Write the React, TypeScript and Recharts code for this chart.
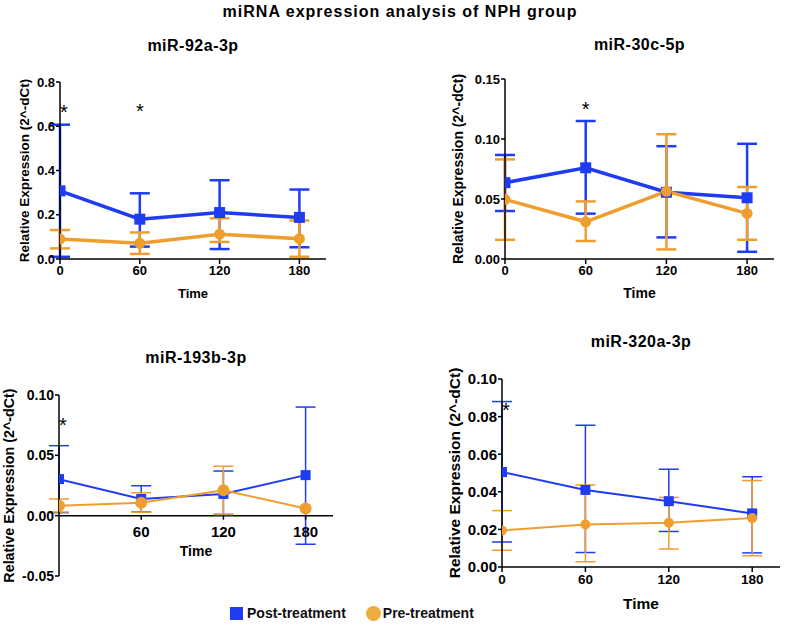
import React from 'react';
import { LineChart, Line, XAxis, YAxis, ErrorBar, ReferenceLine, ReferenceDot } from 'recharts';

const BLUE = '#1f3cf2';
const ORANGE = '#ee9e2f';
const FONT = '"Liberation Sans", Arial, Helvetica, sans-serif';
const AXIS_LABEL = 'Relative Expression (2^-dCt)';
const STAR_SIZE = 20;

const times = [0, 60, 120, 180];

// miR-92a-3p
const mir92Post = [0.308, 0.18, 0.21, 0.188];
const mir92PostLow = [0.01, 0.056, 0.045, 0.053];
const mir92PostHigh = [0.607, 0.297, 0.356, 0.314];
const mir92Pre = [0.09, 0.071, 0.112, 0.092];
const mir92PreLow = [0.048, 0.023, 0.077, 0.01];
const mir92PreHigh = [0.131, 0.12, 0.184, 0.174];
const mir92Stars = [{ time: 0, y: 0.685 }, { time: 60, y: 0.69 }];

// miR-30c-5p
const mir30Post = [0.0636, 0.076, 0.0556, 0.051];
const mir30PostLow = [0.04, 0.0378, 0.018, 0.006];
const mir30PostHigh = [0.0867, 0.115, 0.094, 0.096];
const mir30Pre = [0.0497, 0.031, 0.0564, 0.038];
const mir30PreLow = [0.016, 0.015, 0.008, 0.016];
const mir30PreHigh = [0.083, 0.048, 0.104, 0.06];
const mir30Stars = [{ time: 60, y: 0.129 }];

// miR-193b-3p
const mir193Post = [0.0303, 0.0138, 0.018, 0.0336];
const mir193PostLow = [0.0025, 0.003, 0.0005, -0.0237];
const mir193PostHigh = [0.058, 0.0248, 0.037, 0.09];
const mir193Pre = [0.0083, 0.0107, 0.021, 0.006];
const mir193PreLow = [0.003, 0.0028, 0.0014, null];
const mir193PreHigh = [0.0138, 0.019, 0.041, null];
const mir193Stars = [{ time: 0, y: 0.079 }];

// miR-320a-3p
const mir320Post = [0.0505, 0.041, 0.035, 0.0285];
const mir320PostLow = [0.0133, 0.0077, 0.0189, 0.0075];
const mir320PostHigh = [0.088, 0.0754, 0.052, 0.048];
const mir320Pre = [0.0194, 0.0226, 0.0235, 0.026];
const mir320PreLow = [0.0089, 0.0028, 0.0096, 0.006];
const mir320PreHigh = [0.03, 0.0436, 0.037, 0.046];
const mir320Stars = [{ time: 0, y: 0.086 }];

const buildRows = (
  post: number[], postLow: number[], postHigh: number[],
  pre: number[], preLow: (number | null)[], preHigh: (number | null)[]
) =>
  times.map((t, i) => ({
    time: t,
    post: post[i],
    postErr: [post[i] - postLow[i], postHigh[i] - post[i]],
    pre: pre[i],
    preErr: preLow[i] == null ? null : [pre[i] - (preLow[i] as number), (preHigh[i] as number) - pre[i]],
  }));

type Margin = { top: number; right: number; bottom: number; left: number };

interface PanelProps {
  title: string;
  rows: ReturnType<typeof buildRows>;
  stars: { time: number; y: number }[];
  yDomain: [number, number];
  yTicks: number[];
  digits: number;
  xTicks: number[];
  left: number;
  top: number;
  width: number;
  height: number;
  margin: Margin;
  yAxisWidth: number;
  xAxisHeight: number;
  titleY: number;
  yLabelOffset: number;
  yLabelSize: number;
  timeSize: number;
  timeOffset: number;
  yTickSize: number;
  xTickSize: number;
  lineWidth: number;
  errWidth: number;
  square: number;
  radius: number;
  zeroAxis?: boolean;
}

function Panel(p: PanelProps) {
  const plotLeft = p.margin.left + p.yAxisWidth;
  const plotRight = p.width - p.margin.right;
  const plotH = p.height - p.margin.top - p.margin.bottom - p.xAxisHeight;
  const [yMin, yMax] = p.yDomain;
  // pixel row of y = 0 inside the chart svg (for the panel whose x axis sits on zero)
  const zeroY = p.margin.top + (plotH * yMax) / (yMax - yMin);
  const text = { fill: '#000', fontWeight: 700, fontFamily: FONT };

  const squareDot = (d: any) => (
    <rect
      key={`sq-${d.index}`}
      x={d.cx - p.square / 2}
      y={d.cy - p.square / 2}
      width={p.square}
      height={p.square}
      fill={BLUE}
    />
  );

  const zeroTick = (t: any) => (
    <g key={`zt-${t.index}`}>
      <line x1={t.x} x2={t.x} y1={zeroY} y2={zeroY + 4} stroke="#000" strokeWidth={1.5} />
      <text x={t.x} y={zeroY + 16 + p.xTickSize * 0.36} textAnchor="middle" fontSize={p.xTickSize} {...text}>
        {t.payload.value}
      </text>
    </g>
  );

  return (
    <div style={{ position: 'absolute', left: p.left, top: p.top, width: p.width, height: p.height }}>
      <div
        style={{
          position: 'absolute',
          left: plotLeft - 40,
          width: plotRight - plotLeft + 80,
          top: p.titleY - 10,
          textAlign: 'center',
          fontFamily: FONT,
          fontWeight: 700,
          fontSize: 16,
          lineHeight: '20px',
          letterSpacing: 0.5,
        }}
      >
        {p.title}
      </div>
      <LineChart width={p.width} height={p.height} data={p.rows} margin={p.margin}>
        <XAxis
          type="number"
          dataKey="time"
          domain={[0, 200]}
          ticks={p.xTicks}
          interval={0}
          allowDataOverflow
          height={p.xAxisHeight}
          axisLine={p.zeroAxis ? false : { stroke: '#000', strokeWidth: 1.5 }}
          tickLine={p.zeroAxis ? false : { stroke: '#000', strokeWidth: 1.5 }}
          tickSize={5}
          tickMargin={2}
          tick={p.zeroAxis ? zeroTick : { ...text, fontSize: p.xTickSize }}
          label={
            p.zeroAxis
              ? undefined
              : { value: 'Time', position: 'insideBottom', offset: p.timeOffset, fontSize: p.timeSize, ...text }
          }
        />
        <YAxis
          type="number"
          domain={p.yDomain}
          ticks={p.yTicks}
          interval={0}
          allowDataOverflow
          width={p.yAxisWidth}
          tickFormatter={(v: number) => v.toFixed(p.digits)}
          axisLine={{ stroke: '#000', strokeWidth: 1.5 }}
          tickLine={{ stroke: '#000', strokeWidth: 1.5 }}
          tickSize={4}
          tickMargin={1}
          tick={{ ...text, fontSize: p.yTickSize }}
          label={{
            value: AXIS_LABEL,
            angle: -90,
            position: 'insideLeft',
            offset: p.yLabelOffset,
            fontSize: p.yLabelSize,
            ...text,
            style: { textAnchor: 'middle' },
          }}
        />
        {p.zeroAxis && (
          <ReferenceLine
            y={0}
            stroke="#000"
            strokeWidth={1.5}
            label={{ value: 'Time', position: 'bottom', offset: 30, fontSize: p.timeSize, ...text }}
          />
        )}
        <Line
          type="linear"
          dataKey="post"
          stroke={BLUE}
          strokeWidth={p.lineWidth}
          dot={squareDot}
          activeDot={false}
          isAnimationActive={false}
        >
          <ErrorBar dataKey="postErr" direction="y" width={10} stroke={BLUE} strokeWidth={p.errWidth} />
        </Line>
        <Line
          type="linear"
          dataKey="pre"
          stroke={ORANGE}
          strokeWidth={p.lineWidth}
          dot={{ r: p.radius, fill: ORANGE, stroke: ORANGE, strokeWidth: 0 }}
          activeDot={false}
          isAnimationActive={false}
        >
          <ErrorBar dataKey="preErr" direction="y" width={10} stroke={ORANGE} strokeWidth={p.errWidth} />
        </Line>
        {p.stars.map((s, i) => (
          <ReferenceDot
            key={`star-${i}`}
            x={s.time}
            y={s.y}
            r={0}
            ifOverflow="visible"
            shape={(d: any) => (
              <text
                x={d.cx + (s.time === 0 ? 4 : 0)}
                y={d.cy + STAR_SIZE * 0.57}
                textAnchor="middle"
                fontSize={STAR_SIZE}
                {...text}
                fontWeight={400}
              >
                *
              </text>
            )}
          />
        ))}
      </LineChart>
    </div>
  );
}

export default function App() {
  return (
    <div
      style={{
        position: 'absolute',
        left: 0,
        top: 0,
        width: 789,
        height: 626,
        background: '#fff',
        overflow: 'hidden',
        fontFamily: FONT,
      }}
    >
      <div
        style={{
          position: 'absolute',
          left: 0,
          width: 800,
          top: 2,
          textAlign: 'center',
          fontWeight: 700,
          fontSize: 16,
          lineHeight: '20px',
          letterSpacing: 1,
        }}
      >
        miRNA expression analysis of NPH group
      </div>

      <Panel
        title="miR-92a-3p"
        rows={buildRows(mir92Post, mir92PostLow, mir92PostHigh, mir92Pre, mir92PreLow, mir92PreHigh)}
        stars={mir92Stars}
        yDomain={[0, 0.8]}
        yTicks={[0, 0.2, 0.4, 0.6, 0.8]}
        digits={1}
        xTicks={times}
        left={0}
        top={30}
        width={390}
        height={280}
        margin={{ top: 52, right: 64, bottom: 11, left: 0 }}
        yAxisWidth={60}
        xAxisHeight={40}
        titleY={16}
        yLabelOffset={24}
        yLabelSize={13.5}
        timeSize={13}
        timeOffset={1}
        yTickSize={13}
        xTickSize={13}
        lineWidth={3.5}
        errWidth={2.5}
        square={11}
        radius={5.5}
      />
      <Panel
        title="miR-30c-5p"
        rows={buildRows(mir30Post, mir30PostLow, mir30PostHigh, mir30Pre, mir30PreLow, mir30PreHigh)}
        stars={mir30Stars}
        yDomain={[0, 0.15]}
        yTicks={[0, 0.05, 0.1, 0.15]}
        digits={2}
        xTicks={times}
        left={400}
        top={30}
        width={389}
        height={280}
        margin={{ top: 49, right: 15, bottom: 11, left: 45 }}
        yAxisWidth={60}
        xAxisHeight={40}
        titleY={15}
        yLabelOffset={13}
        yLabelSize={14}
        timeSize={14}
        timeOffset={1}
        yTickSize={13}
        xTickSize={13}
        lineWidth={3.5}
        errWidth={2.5}
        square={11}
        radius={5.5}
      />
      <Panel
        title="miR-193b-3p"
        rows={buildRows(mir193Post, mir193PostLow, mir193PostHigh, mir193Pre, mir193PreLow, mir193PreHigh)}
        stars={mir193Stars}
        yDomain={[-0.05, 0.1]}
        yTicks={[-0.05, 0, 0.05, 0.1]}
        digits={2}
        xTicks={[60, 120, 180]}
        left={0}
        top={320}
        width={390}
        height={270}
        margin={{ top: 75, right: 57, bottom: 4, left: 0 }}
        yAxisWidth={59}
        xAxisHeight={10}
        titleY={38}
        yLabelOffset={9}
        yLabelSize={14.3}
        timeSize={14}
        timeOffset={0}
        yTickSize={14}
        xTickSize={15}
        lineWidth={2}
        errWidth={1.5}
        square={10}
        radius={6}
        zeroAxis
      />
      <Panel
        title="miR-320a-3p"
        rows={buildRows(mir320Post, mir320PostLow, mir320PostHigh, mir320Pre, mir320PreLow, mir320PreHigh)}
        stars={mir320Stars}
        yDomain={[0, 0.1]}
        yTicks={[0, 0.02, 0.04, 0.06, 0.08, 0.1]}
        digits={2}
        xTicks={times}
        left={400}
        top={320}
        width={389}
        height={306}
        margin={{ top: 59, right: 9, bottom: 9, left: 42 }}
        yAxisWidth={60}
        xAxisHeight={50}
        titleY={22}
        yLabelOffset={12}
        yLabelSize={15.5}
        timeSize={15.5}
        timeOffset={8.5}
        yTickSize={15}
        xTickSize={13.5}
        lineWidth={2}
        errWidth={1.5}
        square={10}
        radius={5}
      />

      {/* shared legend */}
      <div
        style={{
          position: 'absolute',
          left: 230,
          top: 604,
          display: 'flex',
          alignItems: 'center',
          fontWeight: 700,
          fontSize: 14,
          lineHeight: '18px',
          color: '#111',
        }}
      >
        <span style={{ width: 13, height: 13, background: BLUE, display: 'inline-block', marginRight: 4 }} />
        <span>Post-treatment</span>
        <span
          style={{
            width: 15,
            height: 15,
            borderRadius: '50%',
            background: '#eeab3e',
            display: 'inline-block',
            marginLeft: 20,
            marginRight: 2,
          }}
        />
        <span>Pre-treatment</span>
      </div>
    </div>
  );
}
